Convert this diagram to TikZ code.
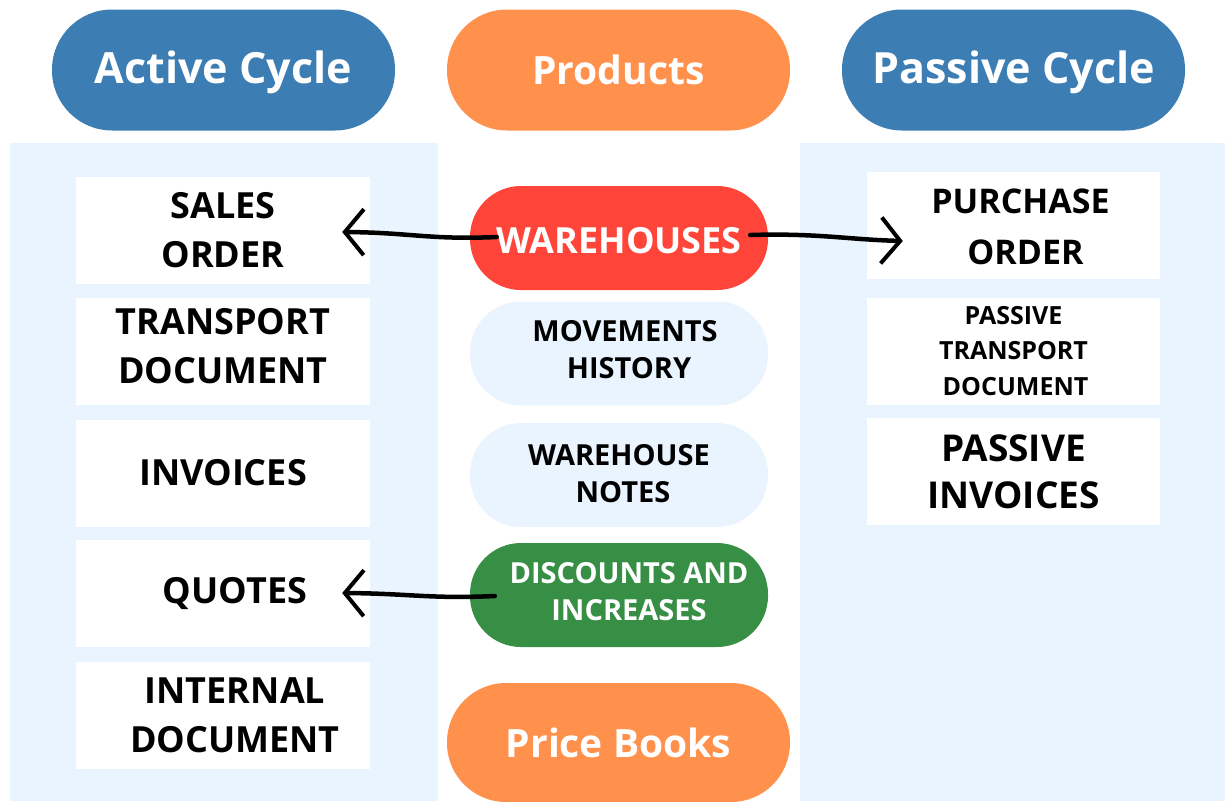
\documentclass[tikz,border=0pt]{standalone}
\usepackage{fontspec}
\setmainfont{Open Sans}
\usetikzlibrary{arrows.meta,calc}
\definecolor{cblue}{HTML}{3C7EB4}
\definecolor{corange}{HTML}{FF914D}
\definecolor{cred}{HTML}{FF4539}
\definecolor{cgreen}{HTML}{378F45}
\definecolor{clight}{HTML}{EAF4FE}
\newcommand\liftup[1]{\rule[-#1]{0pt}{#1}}
\begin{document}
\begin{tikzpicture}[x=1pt,y=-1pt,
  toppill/.style={rounded corners=60pt, inner sep=0pt, minimum width=343pt, minimum height=121pt,
     align=center, text=white, font=\fontsize{43}{50}\selectfont\bfseries},
  midpill/.style={rounded corners=51pt, inner sep=0pt, minimum width=298pt, minimum height=104pt,
     align=center, font=\fontsize{29}{37}\selectfont\bfseries},
  docbox/.style={fill=white, inner sep=0pt, minimum width=294pt, minimum height=107pt,
     align=center, text=black, font=\fontsize{36}{49}\selectfont\bfseries},
  sketcharrow/.style={draw=black, line width=4.5pt, line cap=round,
     -{Straight Barb[length=19pt,width=46pt,line width=4pt]}}
]
\useasboundingbox (0,0) rectangle (1225,801);
% panels
\fill[clight] (10,143) rectangle (438,801);
\fill[clight] (800,143) rectangle (1225,801);
% top pills
\node[toppill, fill=cblue] (active) at (223.5,70) {\rule{0pt}{38pt}Active Cycle};
\node[toppill, fill=corange, font=\fontsize{39}{46}\selectfont\bfseries] (products) at (618.5,70) {Products};
\node[toppill, fill=cblue] (passive) at (1013.5,70) {\rule{0pt}{38pt}Passive Cycle};
% left boxes
\node[docbox] (sales) at (223,230.5) {SALES\\ORDER};
\node[docbox] (transport) at (223,351) {TRANSPORT\\DOCUMENT\liftup{10pt}};
\node[docbox] (invoices) at (223,473) {INVOICES};
\node[docbox] (quotes) at (223,593.5) {\hspace*{24pt}QUOTES};
\node[docbox] (internal) at (223,715) {\hspace*{24pt}INTERNAL\\\hspace*{24pt}DOCUMENT};
% right boxes
\node[docbox, minimum width=293pt, font=\fontsize{34}{51}\selectfont\bfseries] (purchase) at (1013.5,225.5) {\hspace*{14pt}\rule{0pt}{28pt}PURCHASE\\\hspace*{24pt}ORDER};
\node[docbox, minimum width=293pt, font=\fontsize{25}{35.5}\selectfont\bfseries] (ptransport) at (1013.5,351) {PASSIVE\\TRANSPORT\\\hspace*{4pt}DOCUMENT};
\node[docbox, minimum width=293pt, font=\fontsize{37}{47}\selectfont\bfseries] (pinvoices) at (1013.5,471.5) {PASSIVE\\INVOICES};
% middle pills
\node[midpill, fill=cred, text=white, font=\fontsize{36}{44}\selectfont\bfseries] (warehouses) at (619,238) {\rule{0pt}{31pt}WAREHOUSES};
\node[midpill, fill=clight, text=black] (movements) at (619,353.5) {\hspace*{12pt}MOVEMENTS\\\hspace*{20pt}HISTORY\liftup{8pt}};
\node[midpill, fill=clight, text=black] (notes) at (619,475) {WAREHOUSE\\\hspace*{8pt}NOTES\liftup{4pt}};
\node[midpill, fill=cgreen, text=white, font=\fontsize{29}{37}\selectfont\bfseries] (discounts) at (619,595) {\hspace*{20pt}DISCOUNTS AND\\\hspace*{20pt}INCREASES\liftup{8pt}};
\node[toppill, fill=corange, minimum height=119pt, rounded corners=59pt, font=\fontsize{39}{46}\selectfont\bfseries] (pricebooks) at (618.5,742.5) {Price Books};
% arrows
\draw[sketcharrow] ($(warehouses.west)+(27,-1)$) .. controls ($(warehouses.west)+(-40,2)$) and ($(sales.east)+(40,2)$) .. ($(sales.east)+(-28,1.5)$);
\draw[sketcharrow] ($(warehouses.east)+(-18,-3)$) .. controls ($(warehouses.east)+(50,-5)$) and ($(purchase.west)+(-20,14)$) .. ($(purchase.west)+(36,15.5)$);
\draw[sketcharrow] ($(discounts.west)+(25,1)$) .. controls ($(discounts.west)+(-40,4)$) and ($(quotes.east)+(40,0)$) .. ($(quotes.east)+(-28,-0.5)$);
\end{tikzpicture}
\end{document}
